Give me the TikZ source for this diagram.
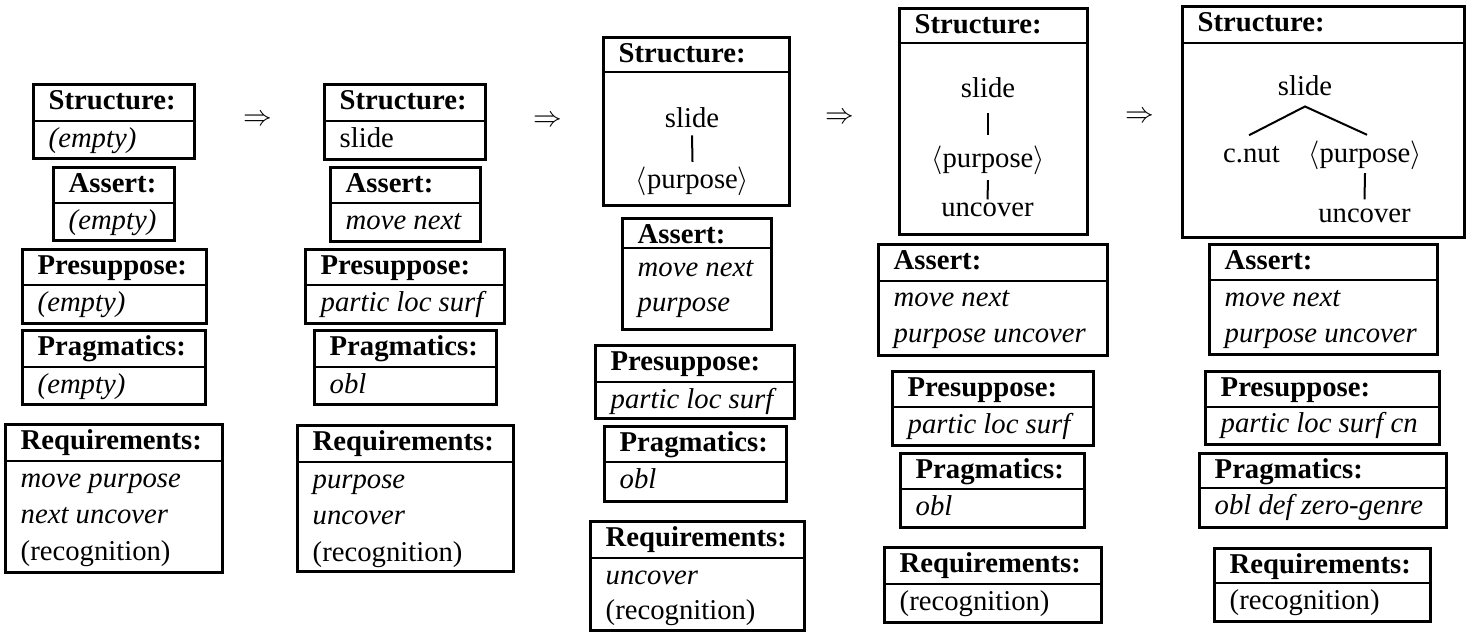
\RequirePackage{fix-cm}
\documentclass[tikz,border=0pt]{standalone}
\usepackage{fontspec}
\setmainfont{Liberation Serif}
\newcommand\bigfont{\fontsize{28.7}{36.7}\selectfont}
\tikzset{
  frame/.style={draw, line width=2.6pt, inner sep=0pt, anchor=north west},
  divline/.style={line width=2pt},
  hdr/.style={anchor=base west, inner sep=0pt, font=\bfseries\bigfont},
  itm/.style={anchor=base west, inner sep=0pt, font=\itshape\bigfont},
  rmm/.style={anchor=base west, inner sep=0pt, font=\bigfont},
  tree/.style={anchor=base, inner sep=0pt, font=\bigfont},
  branch/.style={line width=2pt},
  implies/.style={inner sep=0pt, font=\bigfont}
}
% name, x-left, x-right, y-top, y-divider, y-bottom, header
\newcommand\tbox[7]{%
  \node[frame, minimum width={(#3-#2)*1pt}, minimum height={(#6-#4)*1pt}] (#1) at (#2,-#4) {};
  \draw[divline] (#1.west |- 0,-#5) -- (#1.east |- 0,-#5);
  \node[hdr] (#1h) at (#2+16.5,-#4-26.5) {#7};
}
% style, name, x-left of box, baseline y, text
\newcommand\bl[5]{\node[#1] (#2) at (#3+16.5,-#4) {#5};}
\begin{document}
\begin{tikzpicture}[x=1pt,y=1pt]
\useasboundingbox (0,0) rectangle (1472,-632);

% ---------- column 1 ----------
\tbox{s1}{32}{193}{83}{121}{157}{Structure:}
\bl{itm}{s1b}{32}{147}{(empty)}
\tbox{a1}{52}{173}{166}{203}{239}{Assert:}
\bl{itm}{a1b}{52}{229}{(empty)}
\tbox{p1}{21}{205}{248}{285}{322}{Presuppose:}
\bl{itm}{p1b}{21}{311}{(empty)}
\tbox{g1}{21}{204}{329}{367}{403}{Pragmatics:}
\bl{itm}{g1b}{21}{393}{(empty)}
\tbox{r1}{4}{221}{423}{461}{571}{Requirements:}
\bl{itm}{r1b1}{4}{487}{move purpose}
\bl{itm}{r1b2}{4}{523.5}{next uncover}
\bl{rmm}{r1b3}{4}{560}{(recognition)}

\node[implies] (ar1) at (258,-120) {$\Rightarrow$};

% ---------- column 2 ----------
\tbox{s2}{323}{484}{83}{121}{158}{Structure:}
\bl{rmm}{s2b}{323}{147}{slide}
\tbox{a2}{329}{479}{166}{203}{240}{Assert:}
\bl{itm}{a2b}{329}{229}{move next}
\tbox{p2}{304}{503}{248}{285}{322}{Presuppose:}
\bl{itm}{p2b}{304}{311}{partic loc surf}
\tbox{g2}{313}{495}{329}{367}{403}{Pragmatics:}
\bl{itm}{g2b}{313}{393}{obl}
\tbox{r2}{296}{512}{424}{462}{570}{Requirements:}
\bl{itm}{r2b1}{296}{488}{purpose}
\bl{itm}{r2b2}{296}{524.5}{uncover}
\bl{rmm}{r2b3}{296}{561}{(recognition)}

\node[implies] (ar2) at (548,-121) {$\Rightarrow$};

% ---------- column 3 ----------
\tbox{s3}{602}{788}{36}{72}{204}{Structure:}
\node[tree] (sl3) at (692,-127) {slide};
\node[tree] (pu3) at (692.5,-188) {$\langle$purpose$\rangle$};
\draw[branch] ([yshift=-8pt]sl3.south) -- ([yshift=4.5pt]pu3.north);
\tbox{a3}{621}{770}{217}{248}{328}{Assert:}
\bl{itm}{a3b1}{621}{276}{move next}
\bl{itm}{a3b2}{621}{311}{purpose}
\tbox{p3}{594}{793}{344}{382}{417}{Presuppose:}
\bl{itm}{p3b}{594}{408}{partic loc surf}
\tbox{g3}{603}{785}{425}{462}{500}{Pragmatics:}
\bl{itm}{g3b}{603}{488}{obl}
\tbox{r3}{589}{803}{520}{558}{629}{Requirements:}
\bl{itm}{r3b1}{589}{584}{uncover}
\bl{rmm}{r3b2}{589}{619}{(recognition)}

\node[implies] (ar3) at (840,-118) {$\Rightarrow$};

% ---------- column 4 ----------
\tbox{s4}{898}{1086}{7}{43}{233}{Structure:}
\node[tree] (sl4) at (988,-97) {slide};
\node[tree] (pu4) at (988,-167) {$\langle$purpose$\rangle$};
\node[tree] (un4) at (987.5,-216) {uncover};
\draw[branch] ([yshift=-16pt]sl4.south) -- ([yshift=10.5pt]pu4.north);
\draw[branch] ([yshift=-5.8pt]pu4.south) -- ([yshift=2.8pt]un4.north);
\tbox{a4}{877}{1106}{243}{281}{354}{Assert:}
\bl{itm}{a4b1}{877}{306}{move next}
\bl{itm}{a4b2}{877}{342}{purpose uncover}
\tbox{p4}{891}{1092}{370}{407}{444}{Presuppose:}
\bl{itm}{p4b}{891}{433}{partic loc surf}
\tbox{g4}{899}{1083}{452}{489}{526}{Pragmatics:}
\bl{itm}{g4b}{899}{515}{obl}
\tbox{r4}{883}{1100}{546}{584}{621}{Requirements:}
\bl{rmm}{r4b}{883}{610}{(recognition)}

\node[implies] (ar4) at (1140,-117) {$\Rightarrow$};

% ---------- column 5 ----------
\tbox{s5}{1181}{1463}{5}{43}{236}{Structure:}
\node[tree] (sl5) at (1305,-95) {slide};
\node[tree] (cn5) at (1251.5,-162) {c.nut};
\node[tree] (pu5) at (1365,-162) {$\langle$purpose$\rangle$};
\node[tree] (un5) at (1364.5,-222) {uncover};
\draw[branch] ([xshift=-2.5pt,yshift=10.4pt]cn5.north) -- ([yshift=-11pt]sl5.south)
              -- ([xshift=2pt,yshift=5.5pt]pu5.north);
\draw[branch] ([yshift=-3.8pt]pu5.south) -- ([yshift=8.8pt]un5.north);
\tbox{a5}{1208}{1436}{243}{280}{353}{Assert:}
\bl{itm}{a5b1}{1208}{306}{move next}
\bl{itm}{a5b2}{1208}{342}{purpose uncover}
\tbox{p5}{1204}{1438}{370}{407}{443}{Presuppose:}
\bl{itm}{p5b}{1204}{432}{partic loc surf cn}
\tbox{g5}{1198}{1445}{452}{488}{526}{Pragmatics:}
\bl{itm}{g5b}{1198}{514}{obl def zero-genre}
\tbox{r5}{1213}{1429}{547}{583}{620}{Requirements:}
\bl{rmm}{r5b}{1213}{609}{(recognition)}
\end{tikzpicture}
\end{document}
